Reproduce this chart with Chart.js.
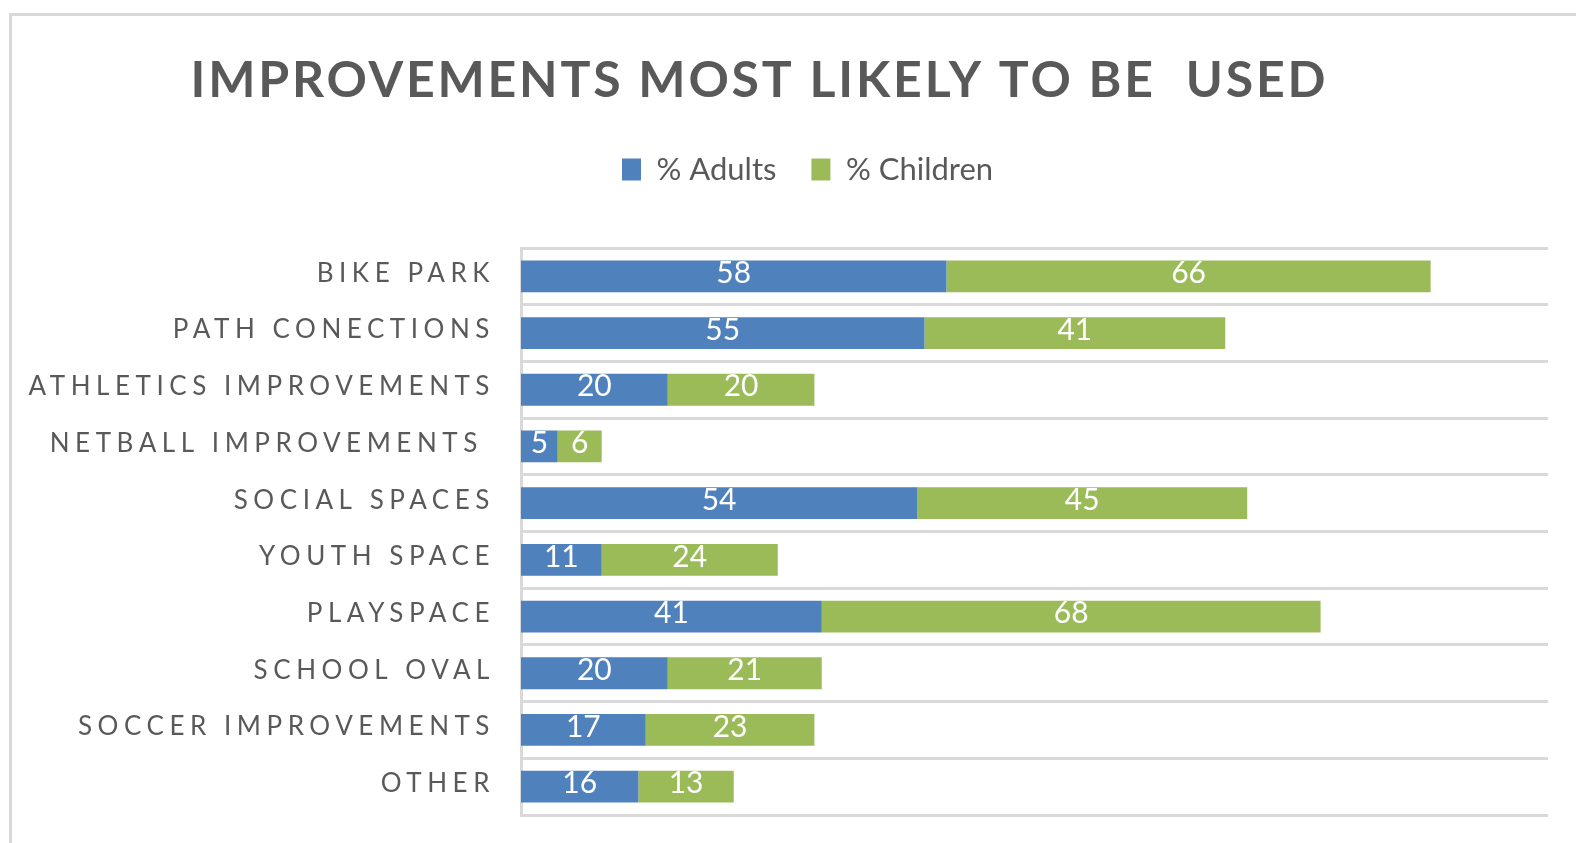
<!DOCTYPE html>
<html><head><meta charset="utf-8">
<script src="https://cdn.jsdelivr.net/npm/chart.js@4.4.1/dist/chart.umd.min.js"></script>
<style>
html,body{margin:0;padding:0;background:#fff;overflow:hidden;}
#wrap{position:relative;width:1576px;height:843px;}
#frame{position:absolute;left:9px;top:13px;width:1700px;height:900px;border-top:3px solid #D9D9D9;border-left:3px solid #D9D9D9;box-sizing:border-box;}
canvas{position:absolute;left:0;top:0;}
</style></head><body>
<div id="wrap"><div id="frame"></div><canvas id="c" width="1576" height="843"></canvas></div>
<script>
const categories = ['BIKE PARK','PATH CONECTIONS','ATHLETICS IMPROVEMENTS','NETBALL IMPROVEMENTS ','SOCIAL SPACES','YOUTH SPACE','PLAYSPACE','SCHOOL OVAL','SOCCER IMPROVEMENTS','OTHER'];
const adults = [58,55,20,5,54,11,41,20,17,16];
const children = [66,41,20,6,45,24,68,21,23,13];
const seriesNames = ['% Adults','% Children'];
const titleText = 'IMPROVEMENTS MOST LIKELY TO BE  USED';
const xMax = 140;

const FONT = 'Lato';
const TEXT = '#595959';
const GRID = '#D9D9D9';

// letter spacing to mimic the spaced-out Office typography
const mc = document.createElement('canvas').getContext('2d');
mc.font = 'bold 50px ' + FONT;
const titleSpacing = Math.max(0, (1135 - mc.measureText(titleText).width) / (titleText.length - 1));
mc.font = '26px ' + FONT;
const labelSpacing = Math.max(0, (461 - mc.measureText('ATHLETICS IMPROVEMENTS').width) / 21);

const titleCenterX = 758;
const legendStartX = 622;

const typoPlugin = {
  id: 'typo',
  beforeDraw(chart) {
    const t = chart.titleBlock;
    if (t && !t._wrapped) {
      const o = t.draw;
      t.draw = function (a) {
        const ctx = this.ctx; ctx.save();
        ctx.letterSpacing = titleSpacing + 'px';
        const natural = (this.left + this.right) / 2 - titleSpacing / 2;
        ctx.translate(titleCenterX - natural, 0);
        o.call(this, a); ctx.restore();
      };
      t._wrapped = true;
    }
    const lg = chart.legend;
    if (lg && !lg._wrapped) {
      const o = lg.draw;
      lg.draw = function (a) {
        const ctx = this.ctx; ctx.save();
        const pad = this.options.labels.padding;
        const start = (this.left + pad + this.right - this.lineWidths[0]) / 2;
        ctx.translate(legendStartX - start, 0);
        o.call(this, a); ctx.restore();
      };
      lg._wrapped = true;
    }
    const ys = chart.scales.y;
    if (ys && !ys._wrapped) {
      const o = ys.drawLabels;
      ys.drawLabels = function (a) {
        const ctx = this.ctx; ctx.save();
        ctx.letterSpacing = labelSpacing + 'px';
        o.call(this, a); ctx.restore();
      };
      ys._wrapped = true;
    }
  },
  afterDatasetsDraw(chart) {
    const ctx = chart.ctx;
    ctx.save();
    ctx.font = '30px ' + FONT;
    ctx.fillStyle = '#FFFFFF';
    ctx.textAlign = 'center';
    ctx.textBaseline = 'middle';
    chart.data.datasets.forEach((ds, i) => {
      const meta = chart.getDatasetMeta(i);
      meta.data.forEach((el, j) => {
        const v = ds.data[j];
        if (!v) return;
        const p = el.getProps(['x', 'y', 'base'], true);
        ctx.fillText(String(v), (p.x + p.base) / 2, p.y - 3);
      });
    });
    ctx.restore();
  }
};

new Chart(document.getElementById('c'), {
  type: 'bar',
  data: {
    labels: categories,
    datasets: [
      { label: seriesNames[0], data: adults, backgroundColor: '#4F81BD', borderWidth: 0 },
      { label: seriesNames[1], data: children, backgroundColor: '#9BBB59', borderWidth: 0 }
    ]
  },
  options: {
    indexAxis: 'y',
    responsive: false,
    animation: false,
    devicePixelRatio: 1,
    categoryPercentage: 1,
    barPercentage: 0.56,
    layout: { padding: { top: 17, right: 28, bottom: 28, left: 0 } },
    plugins: {
      title: {
        display: true,
        text: titleText,
        color: TEXT,
        font: { family: FONT, size: 50, weight: 'bold' },
        padding: { top: 34, bottom: 8 }
      },
      legend: {
        display: true,
        position: 'top',
        labels: {
          color: TEXT,
          font: { family: FONT, size: 31 },
          boxWidth: 19,
          boxHeight: 22,
          padding: 35
        }
      },
      tooltip: { enabled: false }
    },
    scales: {
      x: {
        type: 'linear',
        position: 'top',
        stacked: true,
        min: 0,
        max: xMax,
        ticks: { display: false },
        grid: { display: false },
        border: { display: false },
        afterFit(s) { s.height = 53; }
      },
      y: {
        type: 'category',
        stacked: true,
        offset: true,
        grid: { display: true, offset: true, color: GRID, lineWidth: 3, drawTicks: false },
        border: { display: true, color: GRID, width: 3 },
        ticks: {
          color: TEXT,
          font: { family: FONT, size: 26 },
          padding: 26,
          labelOffset: -3,
          autoSkip: false
        },
        afterFit(s) { s.width = 521; s.paddingTop = 0; s.paddingBottom = 0; }
      }
    }
  },
  plugins: [typoPlugin]
});
</script>
</body></html>
